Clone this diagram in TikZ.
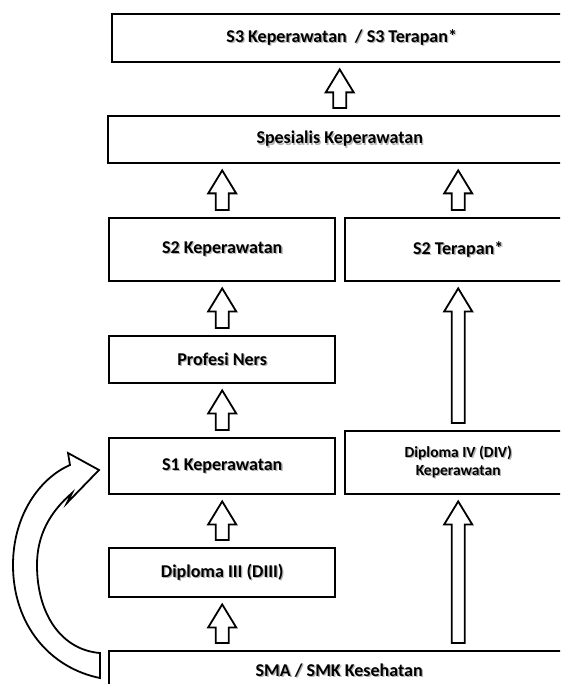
\documentclass[tikz,border=0pt]{standalone}
\usepackage{fontspec}
\setmainfont{Carlito}
\usetikzlibrary{calc, positioning}

% text with a soft grey shadow
\newcommand{\shd}[1]{\rlap{\kern1.3pt\raisebox{-1.3pt}{\textcolor{black!30}{#1}}}#1}

% hollow block arrow from the top of #1 up to the bottom of #2, at the x of #3
\newcommand{\blockarrow}[3]{%
    \draw[hollow] let \p1=(#1.north), \p2=(#2.south), \p3=(#3.north) in
        (\x3-6.5pt,\y1+7pt) -- (\x3-6.5pt,\y2-29pt) -- (\x3-14pt,\y2-29pt)
        -- (\x3,\y2-6pt) -- (\x3+14pt,\y2-29pt) -- (\x3+6.5pt,\y2-29pt)
        -- (\x3+6.5pt,\y1+7pt) -- cycle;}

\begin{document}
\begin{tikzpicture}[x=1pt, y=-1pt,
        box/.style    = {draw, line width=2.4pt, anchor=north west, inner sep=0pt, align=center,
                         font=\bfseries\fontsize{18}{20}\selectfont},
        half/.style   = {box, minimum width=226pt},
        wide/.style   = {box, minimum width=460pt},
        hollow/.style = {draw, fill=white, line width=1.8pt, line join=miter}]

    \useasboundingbox (0,0) rectangle (560,684);
    \clip (0,0) rectangle (560,684);

    % wide boxes
    \node[wide, minimum width=459pt, minimum height=48pt] (s3) at (111,13) {\shd{S3 Keperawatan ~/ S3 Terapan*}};
    \node[wide, minimum width=463pt, minimum height=47pt] (spes) at (107,115) {\shd{Spesialis Keperawatan}};
    \node[wide, minimum height=40pt] (sma) at (108,650) {\shd{SMA / SMK Kesehatan}};

    % left column
    \node[half, minimum height=63pt] (s2kep) at (108,217) {\shd{S2 Keperawatan}};
    \node[half, minimum height=47pt] (ners)  at (108,335) {\shd{Profesi Ners}};
    \node[half, minimum height=56pt] (s1)    at (108,437) {\shd{S1 Keperawatan}};
    \node[half, minimum height=49pt] (d3)    at (108,547) {\shd{Diploma III (DIII)}};

    % right column
    \node[half, minimum height=63pt] (s2ter) at (344,217) {\shd{S2 Terapan*}};
    \node[half, minimum height=63pt, font=\bfseries\fontsize{15.5}{18}\selectfont] (d4) at (344,430)
        {\shd{Diploma IV (DIV)}\\\shd{Keperawatan}};

    % straight arrows
    \foreach \lo/\hi/\xr in {spes/s3/spes, s2kep/spes/s2kep, s2ter/spes/s2ter,
                             ners/s2kep/ners, d4/s2ter/d4, s1/ners/s1,
                             d3/s1/d3, sma/d3/d3, sma/d4/d4}
        {\blockarrow{\lo}{\hi}{\xr}}

    % curved arrow from SMA / SMK up to S1
    \draw[hollow] (100,678) .. controls (50,668) and (13,625) .. (13,565)
        .. controls (13,515) and (40,478) .. (70,465) -- (68,453) -- (99,470)
        -- (67,503) -- (72,493) .. controls (50,512) and (37,535) .. (37,565)
        .. controls (37,615) and (62,650) .. (100,653) -- cycle;

\end{tikzpicture}
\end{document}
